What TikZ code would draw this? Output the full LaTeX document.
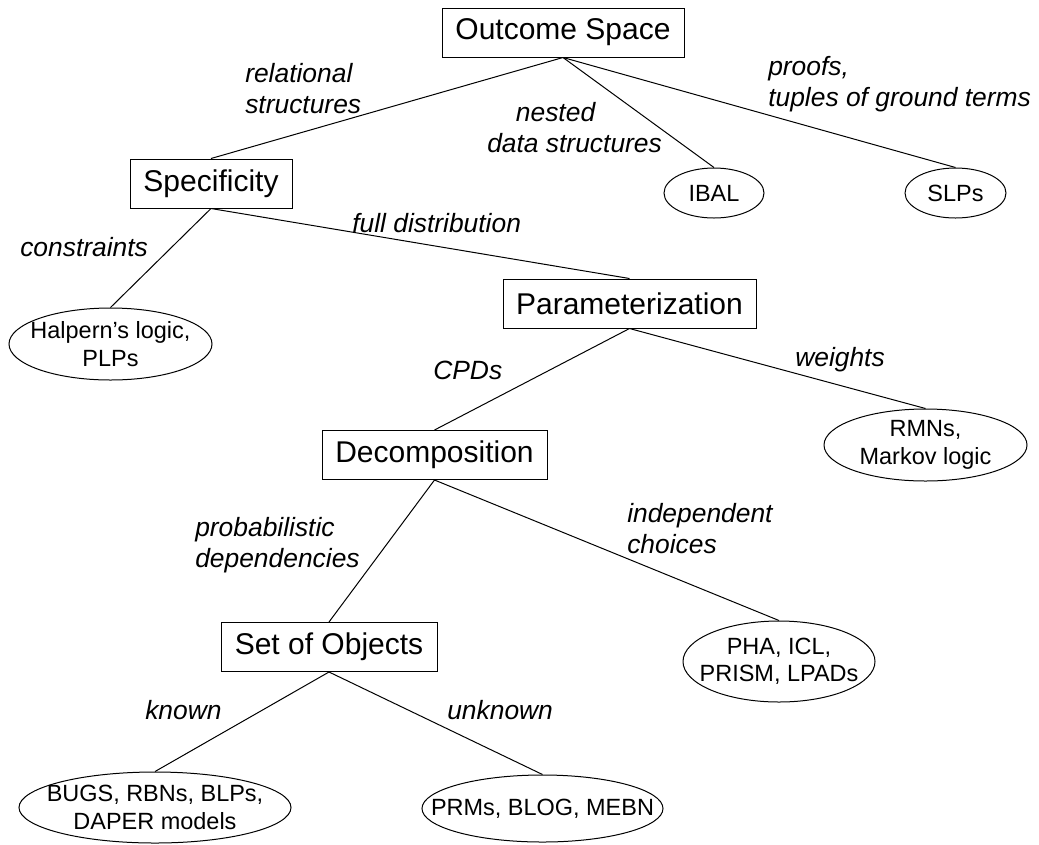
\documentclass[tikz,border=0pt]{standalone}
\usepackage{fontspec}
\setmainfont{Liberation Sans}
\usetikzlibrary{shapes.geometric}
\begin{document}
\begin{tikzpicture}[x=0.75pt,y=-0.75pt,
  box/.style={draw, line width=0.75pt, rectangle, minimum height=36.75pt, inner sep=0pt, font=\fontsize{22.5}{27}\selectfont},
  oval/.style={draw, line width=0.75pt, ellipse, inner sep=0pt},
  ovaltext/.style={align=center, inner sep=0pt, font=\fontsize{17.6}{20.5}\selectfont},
  lbl/.style={anchor=base west, align=left, inner sep=0pt, font=\fontsize{19.8}{23.25}\selectfont\itshape},
  conn/.style={line width=0.75pt}]
\path[use as bounding box, fill=white] (0,0) rectangle (1039,844);

% boxes
\node[box, minimum width=181.5pt]  (os)    at (563,32.5)  {Outcome Space};
\node[box, minimum width=121.5pt]  (spec)  at (211,183.5) {Specificity};
\node[box, minimum width=189.75pt] (param) at (629.5,303.5) {Parameterization};
\node[box, minimum width=168.75pt] (dec)   at (434.5,455) {Decomposition};
\node[box, minimum width=162pt]    (set)   at (329,647) {Set of Objects};

% ellipses
\node[oval, minimum width=75pt, minimum height=37.5pt] (ibal) at (714,193)
  [label={[ovaltext]center:{IBAL}}] {};
\node[oval, minimum width=75.75pt, minimum height=37.5pt] (slp) at (955.5,193)
  [label={[ovaltext]center:{SLPs}}] {};
\node[oval, minimum width=152.25pt, minimum height=54pt] (hal) at (110.5,344)
  [label={[ovaltext]center:{Halpern’s logic,\\PLPs}}] {};
\node[oval, minimum width=152.25pt, minimum height=54pt] (rmn) at (925.5,445)
  [label={[ovaltext]center:{RMNs,\\Markov logic}}] {};
\node[oval, minimum width=144pt, minimum height=60.75pt] (pha) at (779,661.5)
  [label={[ovaltext]center:{PHA, ICL,\\PRISM, LPADs}}] {};
\node[oval, minimum width=204pt, minimum height=53.25pt] (bugs) at (155,807.5)
  [label={[ovaltext]center:{BUGS, RBNs, BLPs,\\DAPER models}}] {};
\node[oval, minimum width=180.75pt, minimum height=50.25pt] (prm) at (542.5,808.5)
  [label={[ovaltext]center:{PRMs, BLOG, MEBN}}] {};

% connectors
\draw[conn] (os.south) -- (spec.north);
\draw[conn] (os.south) -- (ibal.north);
\draw[conn] (os.south) -- (slp.north);
\draw[conn] (spec.south) -- (hal.north);
\draw[conn] (spec.south) -- (param.north);
\draw[conn] (param.south) -- (dec.north);
\draw[conn] (param.south) -- (rmn.north);
\draw[conn] (dec.south) -- (set.north);
\draw[conn] (dec.south) -- (pha.north);
\draw[conn] (set.south) -- (bugs.north);
\draw[conn] (set.south) -- (prm.north);

% labels (base = baseline of the last line)
\node[lbl] (l1) at (245,113) {relational\\structures};
\node[lbl] (l2) at (487,152) {\hspace*{21.5pt}nested\\data structures};
\node[lbl] (l3) at (768,106) {proofs,\\tuples of ground terms};
\node[lbl] (l4) at (20,256) {constraints};
\node[lbl] (l5) at (352,232) {full distribution};
\node[lbl] (l6) at (433,379) {CPDs};
\node[lbl] (l7) at (795,366) {weights};
\node[lbl] (l8) at (195,567) {probabilistic\\dependencies};
\node[lbl] (l9) at (627,553) {independent\\choices};
\node[lbl] (l10) at (145,719) {known};
\node[lbl] (l11) at (447,719) {unknown};
\end{tikzpicture}
\end{document}
